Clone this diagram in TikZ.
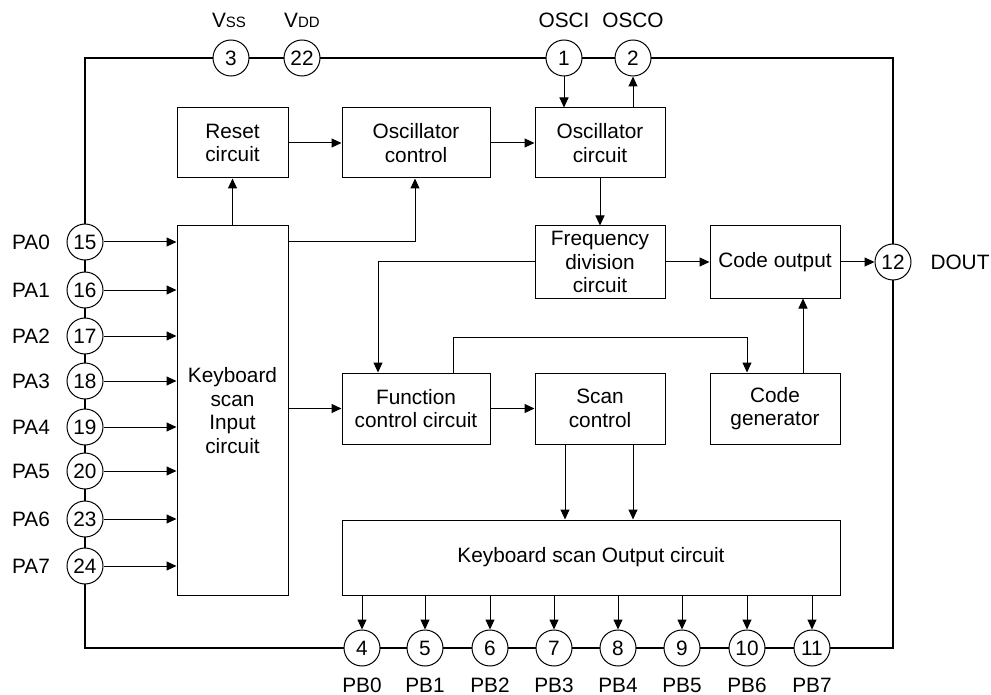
\documentclass[tikz,border=0pt]{standalone}
\usepackage{fontspec}
\setmainfont{Liberation Sans}
\usetikzlibrary{arrows.meta}
\newcommand{\fs}{\fontsize{20.8}{23.5}\selectfont}
\begin{document}
\begin{tikzpicture}[x=1pt,y=-1pt,
  blk/.style={draw,line width=1pt,align=center,inner sep=0pt,font=\fs},
  pin/.style={draw,circle,line width=1pt,fill=white,minimum size=36pt,inner sep=0pt,font=\fs},
  lbl/.style={font=\fs,inner sep=0pt},
  arr/.style={line width=1pt,-{Triangle[length=10pt,width=9pt]}},
  frame/.style={line width=2pt}]
\useasboundingbox (0,0) rectangle (991,695);
% frame
\draw[frame] (85,58) rectangle (893,648);
% blocks
\node[blk,minimum width=111pt,minimum height=70pt] (reset) at (232.5,143) {Reset\\circuit};
\node[blk,minimum width=148pt,minimum height=70pt] (oscc) at (416,143) {Oscillator\\control};
\node[blk,minimum width=130pt,minimum height=70pt] (osci) at (600,143) {Oscillator\\circuit};
\node[blk,minimum width=130pt,minimum height=72pt] (freq) at (600,262) {Frequency\\division\\circuit};
\node[blk,minimum width=130pt,minimum height=72pt] (code) at (775,262) {Code output};
\node[blk,minimum width=111pt,minimum height=369pt] (kbin) at (232.5,410.5) {Keyboard\\scan\\Input\\circuit};
\node[blk,minimum width=148pt,minimum height=71pt] (func) at (416,408.5) {Function\\control circuit};
\node[blk,minimum width=130pt,minimum height=71pt] (scan) at (600,408.5) {Scan\\control};
\node[blk,minimum width=130pt,minimum height=71pt] (cgen) at (775,408.5) {Code\\generator};
\node[blk,minimum width=498pt,minimum height=75pt] (kbout) at (591,557.5) {Keyboard scan Output circuit};
% top pins
\node[pin] (p3) at (231,58) {3};
\node[pin] (p22) at (302,58) {22};
\node[pin] (p1) at (564,58) {1};
\node[pin] (p2) at (633,58) {2};
\node[lbl] (lvss) at (229,20) {V{\fontsize{15}{15}\selectfont SS}};
\node[lbl] (lvdd) at (302,20) {V{\fontsize{15}{15}\selectfont DD}};
\node[lbl] (losci) at (564,20) {OSCI};
\node[lbl] (losco) at (633,20) {OSCO};
% right pin
\node[pin] (p12) at (893,262) {12};
\node[lbl] (ldout) at (960,262) {DOUT};
% left pins
\foreach \n/\y/\l in {15/242/PA0,16/290/PA1,17/336/PA2,18/381/PA3,19/427/PA4,20/471/PA5,23/519/PA6,24/566/PA7}{
  \node[pin] (p\n) at (85,\y) {\n};
  \node[lbl] (l\n) at (31,\y) {\l};
  \draw[arr] (p\n) -- (kbin.west |- p\n);
}
% bottom pins
\foreach \n/\x/\l in {4/362/PB0,5/425/PB1,6/490/PB2,7/554/PB3,8/618/PB4,9/682/PB5,10/747/PB6,11/812/PB7}{
  \node[pin] (p\n) at (\x,648) {\n};
  \node[lbl,anchor=base] (l\n) at (\x,692) {\l};
  \draw[arr] (kbout.south -| p\n) -- (p\n);
}
% connectors
\draw[arr] (reset) -- (oscc);
\draw[arr] (oscc) -- (osci);
\draw[arr] (p1) -- (osci.north -| p1);
\draw[arr] (osci.north -| p2) -- (p2);
\draw[arr] (osci) -- (freq);
\draw[arr] (kbin.north -| reset) -- (reset);
\draw[arr] (kbin.east |- p15) -| ([xshift=-1pt]oscc.south);
\draw[arr] (freq) -- (code);
\draw[arr] (freq.west) -| ([xshift=-38pt]func.north);
\draw[arr] (code) -- (p12);
\draw[arr] ([xshift=28pt]cgen.north) -- ([xshift=28pt]code.south);
\coordinate (fbend) at (453,337);
\draw[arr] (func.north -| fbend) -- (fbend) -| ([xshift=-28pt]cgen.north);
\draw[arr] (kbin.east |- func) -- (func);
\draw[arr] (func) -- (scan);
\draw[arr] ([xshift=-35pt]scan.south) -- ([xshift=-35pt]scan.south |- kbout.north);
\draw[arr] ([xshift=33pt]scan.south) -- ([xshift=33pt]scan.south |- kbout.north);
\end{tikzpicture}
\end{document}
